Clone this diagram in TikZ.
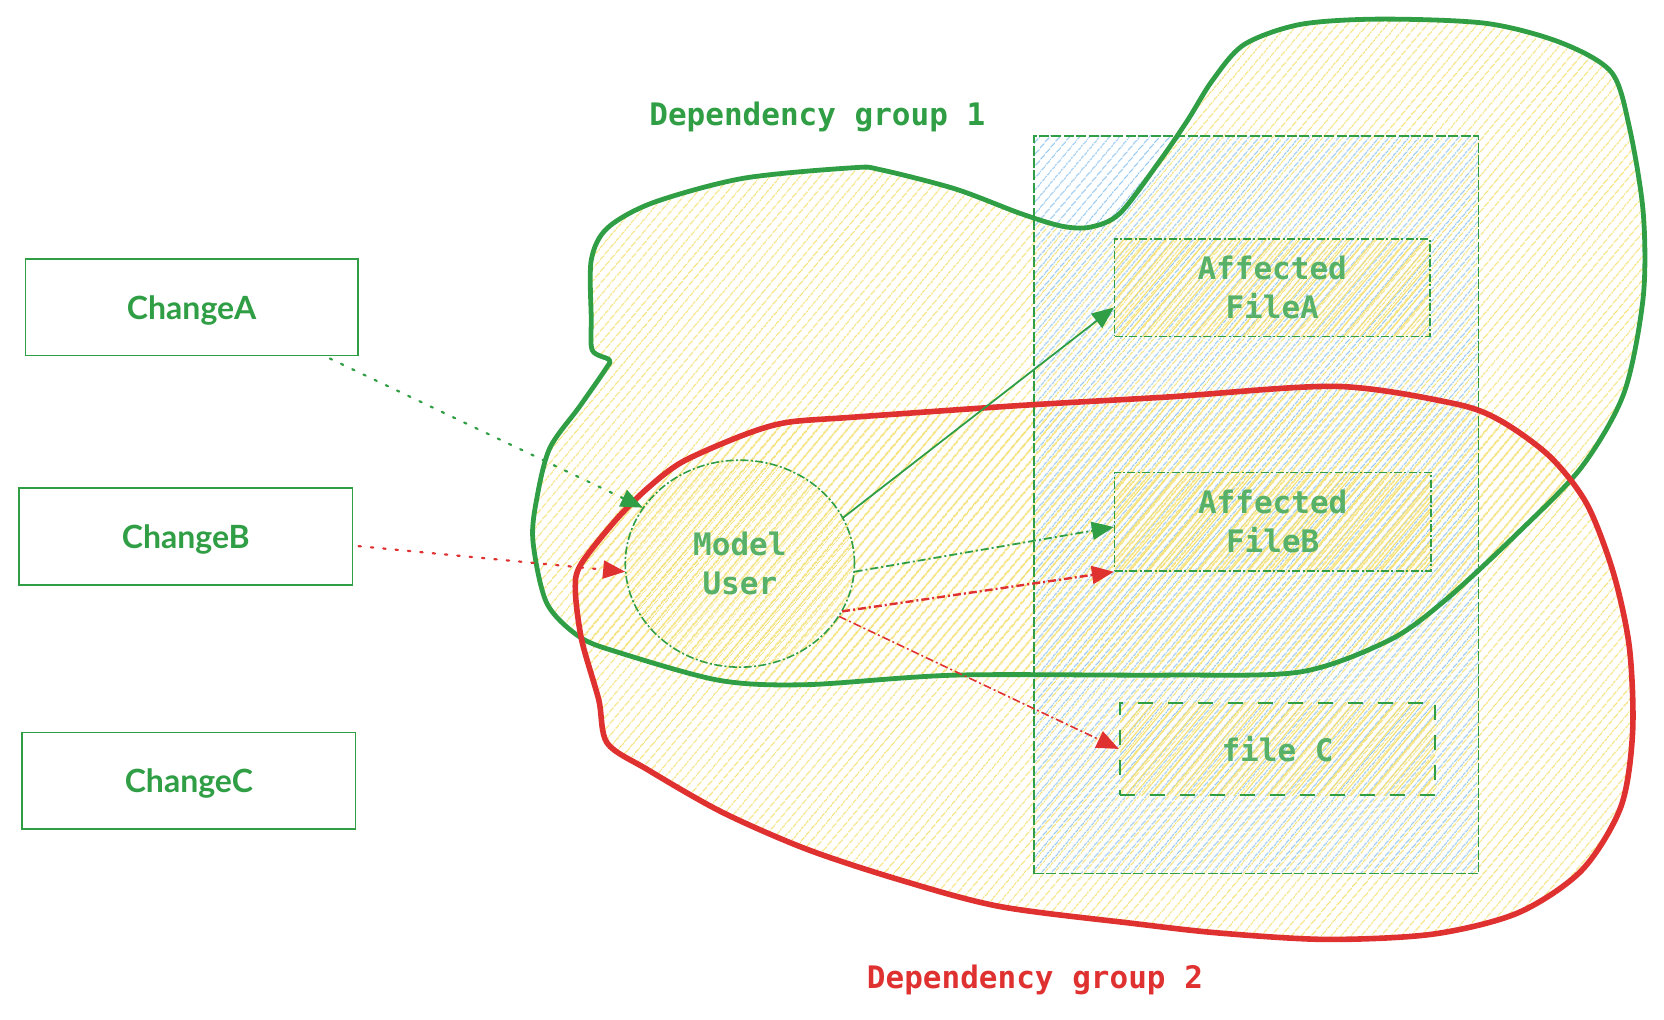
\documentclass[tikz,border=0pt]{standalone}
\usepackage{fontspec}
\newfontfamily\monofont{DejaVu Sans Mono}
\newfontfamily\labelfont{Lato}
\usetikzlibrary{patterns.meta,arrows.meta,calc,fit,shapes.geometric}
\definecolor{exgreen}{HTML}{2F9E44}
\definecolor{exred}{HTML}{E03131}
\definecolor{hyellow}{RGB}{245,225,120}
\definecolor{hblue}{RGB}{150,200,238}
\tikzset{
  hatchY/.style={pattern={Lines[angle=50,distance=4pt,line width=0.65pt,xshift=2pt]},pattern color=hyellow},
  hatchYb/.style={pattern={Lines[angle=50,distance=3.2pt,line width=0.6pt,xshift=1pt]},pattern color=hyellow},
  hatchYc/.style={pattern={Lines[angle=50,distance=4pt,line width=0.5pt,xshift=0.5pt]},pattern color=hyellow},
  hatchB/.style={pattern={Lines[angle=50,distance=4pt,line width=0.65pt]},pattern color=hblue},
  changetext/.style={text=exgreen, yshift=-1.5pt, font=\labelfont\bfseries\fontsize{16}{19}\selectfont},
  changebox/.style={draw=exgreen, line width=0.8pt, inner sep=0pt},
  monotext/.style={font=\monofont\bfseries\fontsize{15.5}{19.5}\selectfont, align=center},
  filetext/.style={monotext, text=exgreen!80},
  filebox/.style={draw=exgreen, line width=0.7pt, dash pattern=on 4pt off 1.2pt on 1pt off 1.2pt,
    inner sep=0pt, hatchYb},
  fileCbox/.style={draw=exgreen, line width=1.1pt, dash pattern=on 7.5pt off 7.5pt,
    inner sep=0pt, hatchYb},
  tallbox/.style={draw=exgreen, line width=0.7pt, dash pattern=on 5pt off 1.2pt, inner sep=0pt},
  modelnode/.style={ellipse, draw=exgreen, line width=0.8pt, dash pattern=on 4pt off 1.2pt on 1pt off 1.2pt,
    inner sep=0pt, minimum width=114.6pt, minimum height=103.5pt, hatchYc, filetext},
  grouptitle/.style={font=\monofont\bfseries\fontsize{15.5}{19}\selectfont},
  tip/.style={-{Triangle[length=11pt,width=9pt]}},
  dotconn/.style={tip, line width=1.1pt, dash pattern=on 1.2pt off 5pt, line cap=round},
  solidconn/.style={tip, line width=0.9pt},
  dashdotconn/.style={tip, line width=0.9pt, dash pattern=on 4pt off 1.5pt on 1pt off 1.5pt},
  blobG/.style={draw=exgreen, line width=2.4pt, line join=round},
  blobR/.style={draw=exred, line width=2.8pt, line join=round}
}
\newcommand\greenblob{plot[smooth cycle, tension=0.5] coordinates {
  (557,300) (557,245) (572,215) (615,191) (700,168) (804,158) (830,160) (900,178) (961,201)
  (1000,213) (1027,214) (1055,201) (1093,151) (1119,113) (1142,76) (1172,42) (1225,23)
  (1300,18) (1400,22) (1470,40) (1518,68) (1535,120) (1548,200) (1548,280) (1530,370)
  (1490,440) (1430,502) (1362,565) (1309,603) (1225,633) (1100,636) (900,636) (760,645)
  (678,641) (584,615) (546,600) (515,568) (502,509) (506,468) (518,422) (546,383)
  (571,347) (574,339) (558,330)}}
\newcommand\redblob{plot[smooth cycle, tension=0.5] coordinates {
  (643,435) (700,410) (741,398) (804,393) (961,382) (1100,374) (1259,364) (1369,380)
  (1413,396) (1460,430) (1495,475) (1520,540) (1535,610) (1538,690) (1527,760) (1490,820)
  (1430,860) (1350,880) (1250,885) (1149,879) (1068,870) (942,854) (848,829) (760,800)
  (680,765) (610,725) (572,700) (564,659) (548,603) (542,556) (547,532) (580,490) (610,460)}}
\begin{document}
\begin{tikzpicture}[x=0.5307pt, y=-0.5307pt]
\useasboundingbox (0,0) rectangle (1567.6,960);

% tall rectangle fill
\node[fit={(974,128) (1393,823)}, inner sep=0pt, hatchB] (files) {};

% group fills
\path[hatchY] \greenblob;
\path[hatchY] \redblob;

% tall rectangle border
\node[tallbox, fit={(974,128) (1393,823)}] (filesborder) {};

% change boxes
\node[changebox, fit={(24,244) (337,335)}, label={[changetext]center:ChangeA}] (cA) {};
\node[changebox, fit={(18,460) (332,551)}, label={[changetext]center:ChangeB}] (cB) {};
\node[changebox, fit={(21,690) (335,781)}, label={[changetext]center:ChangeC}] (cC) {};

% file boxes
\node[filebox, fit={(1050,225) (1347,317)}, label={[filetext]center:Affected\\FileA}] (fa) {};
\node[filebox, fit={(1050,445) (1348,538)}, label={[filetext]center:Affected\\FileB}] (fb) {};
\node[fileCbox, fit={(1055,662) (1352,749)}, label={[filetext]center:file C}] (fc) {};

% model node
\node[modelnode] (mu) at (697,531) {Model\\User};

% group outlines
\draw[blobG] \greenblob;
\draw[blobR] \redblob;

% titles
\node[grouptitle, text=exgreen] (g1) at (770,110) {Dependency group 1};
\node[grouptitle, text=exred] (g2) at (975,923) {Dependency group 2};

% connectors
\draw[dotconn, exgreen] ($(cA.south east)+(-27,2)$) -- (mu.150);
\draw[dotconn, exred] ($(cB.east)+(5,9)$) -- (mu.184);
\draw[solidconn, exgreen] (mu.24) -- ($(fa.west)!0.4!(fa.south west)$);
\draw[dashdotconn, exgreen] (mu.356) -- ($(fb.west)+(0,5)$);
\draw[dashdotconn, exred, line width=1.2pt] (mu.335) -- (fb.south west);
\draw[dashdotconn, exred, line width=0.8pt] (mu.332) -- (fc.west);
\end{tikzpicture}
\end{document}
